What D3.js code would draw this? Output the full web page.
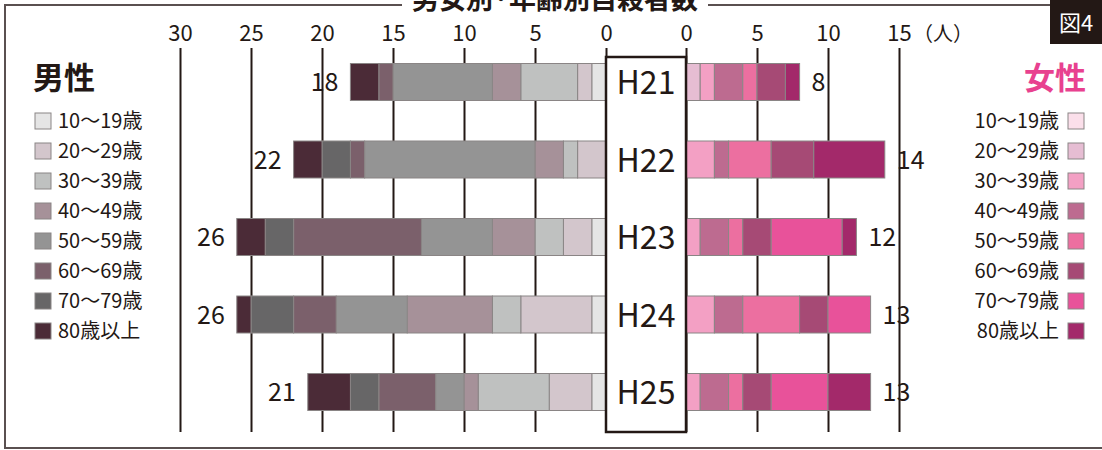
<!DOCTYPE html>
<html>
<head>
<meta charset="utf-8">
<script src="https://cdn.jsdelivr.net/npm/d3@7"></script>
<style>
  body { margin: 0; background: #fff; }
  svg { display: block; font-family: "Noto Sans CJK JP", "Noto Sans", sans-serif; }
</style>
</head>
<body>
<svg id="chart" width="1102" height="450"></svg>
<script>
const years = ['H21', 'H22', 'H23', 'H24', 'H25'];
const ageGroups = ['10～19歳', '20～29歳', '30～39歳', '40～49歳', '50～59歳', '60～69歳', '70～79歳', '80歳以上'];
// counts per year, in age group order
const maleCounts = [
  [1, 1, 4, 2, 7, 1, 0, 2],
  [0, 2, 1, 2, 12, 1, 2, 2],
  [1, 2, 2, 3, 5, 9, 2, 2],
  [1, 5, 2, 6, 5, 3, 3, 1],
  [1, 3, 5, 1, 2, 4, 2, 3]
];
const femaleCounts = [
  [0, 1, 1, 2, 1, 2, 0, 1],
  [0, 0, 2, 1, 3, 3, 0, 5],
  [0, 0, 1, 2, 1, 2, 5, 1],
  [0, 0, 2, 2, 4, 2, 3, 0],
  [0, 0, 1, 2, 1, 2, 4, 3]
];
const maleTicks = [30, 25, 20, 15, 10, 5, 0];
const femaleTicks = [0, 5, 10, 15];

const maleColors = ['#e5e5e5', '#d3c6cc', '#bfc1c0', '#a69199', '#949494', '#7b606b', '#676667', '#4b2b37'];
const femaleColors = ['#fbdfea', '#e6bdd3', '#f3a0c4', '#bd6b90', '#ec6fa0', '#a64a75', '#e8529a', '#a3296a'];
const ink = '#231815';

const svg = d3.select('#chart');
const gridTop = 48, gridBottom = 432;

const xMale = d3.scaleLinear().domain([0, 30]).range([606, 180]);
const xFemale = d3.scaleLinear().domain([0, 15]).range([686, 899]);
const y = d3.scalePoint().domain(years).range([82, 392]);
const barH = 37;

// outer frame (left, top, bottom) with gap for title
const frame = svg.append('g').attr('stroke', '#5a5050').attr('stroke-width', 2).attr('fill', 'none');
frame.append('path').attr('d', 'M1050,5 H708 M402,5 H5 V448 H1102');

svg.append('text')
  .attr('x', 555).attr('y', 9)
  .attr('text-anchor', 'middle')
  .attr('font-size', 27).attr('font-weight', 700)
  .attr('fill', ink)
  .text('男女別·年齢別自殺者数');

// 図4 badge
svg.append('rect').attr('x', 1050).attr('y', 0).attr('width', 52).attr('height', 44).attr('fill', ink);
svg.append('text').attr('x', 1076).attr('y', 31).attr('text-anchor', 'middle')
  .attr('font-size', 22).attr('fill', '#fff').text('図4');

// axes with grid lines
function drawAxis(scale, ticks) {
  const g = svg.append('g')
    .attr('transform', `translate(0,${gridTop})`)
    .call(d3.axisTop(scale).tickValues(ticks).tickSize(-(gridBottom - gridTop)).tickPadding(7));
  g.select('.domain').remove();
  g.selectAll('.tick line').attr('stroke', ink).attr('stroke-width', 2);
  g.selectAll('.tick text').attr('fill', ink).attr('font-size', 22).attr('font-family', '"Noto Sans CJK JP", sans-serif');
}
drawAxis(xMale, maleTicks);
drawAxis(xFemale, femaleTicks);

svg.append('text').attr('x', 913).attr('y', 41).attr('font-size', 20).attr('fill', ink).text('（人）');

// stacked bars
function drawBars(counts, scale, colors, dir) {
  const keys = d3.range(ageGroups.length);
  const stacked = d3.stack().keys(keys)(counts);
  stacked.forEach((layer, k) => {
    svg.append('g').selectAll('rect')
      .data(layer.map((d, i) => ({ year: years[i], v0: d[0], v1: d[1] })).filter(d => d.v1 > d.v0))
      .join('rect')
      .attr('x', d => Math.min(scale(d.v0), scale(d.v1)))
      .attr('width', d => Math.abs(scale(d.v1) - scale(d.v0)))
      .attr('y', d => y(d.year) - barH / 2)
      .attr('height', barH)
      .attr('fill', colors[k])
      .attr('stroke', '#8a8585')
      .attr('stroke-width', 1);
  });
  svg.append('g').selectAll('text')
    .data(counts.map((c, i) => ({ year: years[i], total: d3.sum(c) })))
    .join('text')
    .attr('x', d => scale(d.total) + dir * 12)
    .attr('y', d => y(d.year) + 9)
    .attr('text-anchor', dir < 0 ? 'end' : 'start')
    .attr('font-size', 25)
    .attr('fill', ink)
    .text(d => d.total);
}
drawBars(maleCounts, xMale, maleColors, -1);
drawBars(femaleCounts, xFemale, femaleColors, 1);

// central year box
svg.append('rect').attr('x', 606).attr('y', 57).attr('width', 80).attr('height', 375)
  .attr('fill', '#fff').attr('stroke', ink).attr('stroke-width', 2.5);
svg.append('g').selectAll('text').data(years).join('text')
  .attr('x', 646).attr('y', d => y(d) + 12)
  .attr('text-anchor', 'middle').attr('font-size', 32).attr('fill', ink)
  .text(d => d);

// legends
svg.append('text').attr('x', 33).attr('y', 89).attr('font-size', 31).attr('font-weight', 700)
  .attr('fill', ink).text('男性');
svg.append('text').attr('x', 1086).attr('y', 89).attr('text-anchor', 'end').attr('font-size', 31)
  .attr('font-weight', 700).attr('fill', '#e8418f').text('女性');

const legY = d3.scalePoint().domain(ageGroups).range([121, 331]);
const lm = svg.append('g').selectAll('g').data(ageGroups).join('g')
  .attr('transform', d => `translate(0,${legY(d)})`);
lm.append('rect').attr('x', 35).attr('y', -8).attr('width', 16).attr('height', 16)
  .attr('fill', (d, i) => maleColors[i]).attr('stroke', '#8a8585').attr('stroke-width', 1);
lm.append('text').attr('x', 58).attr('y', 7).attr('font-size', 20).attr('fill', ink).text(d => d);

const lf = svg.append('g').selectAll('g').data(ageGroups).join('g')
  .attr('transform', d => `translate(0,${legY(d)})`);
lf.append('rect').attr('x', 1068).attr('y', -8).attr('width', 16).attr('height', 16)
  .attr('fill', (d, i) => femaleColors[i]).attr('stroke', '#8a8585').attr('stroke-width', 1);
lf.append('text').attr('x', 1059).attr('y', 7).attr('text-anchor', 'end').attr('font-size', 20)
  .attr('fill', ink).text(d => d);
</script>
</body>
</html>
